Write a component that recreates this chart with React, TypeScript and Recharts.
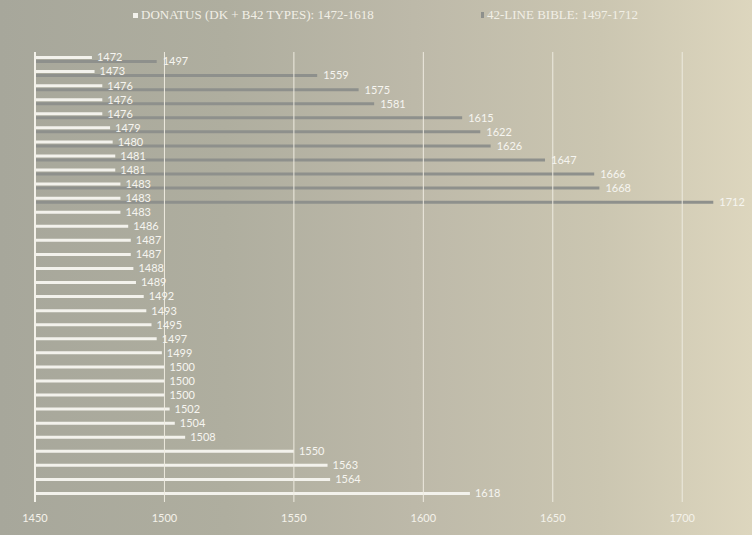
import React from 'react';
import { BarChart, Bar, XAxis, YAxis, ReferenceLine, LabelList } from 'recharts';

const donatusYears = [1472, 1473, 1476, 1476, 1476, 1479, 1480, 1481, 1481, 1483, 1483, 1483, 1486, 1487, 1487, 1488, 1489, 1492, 1493, 1495, 1497, 1499, 1500, 1500, 1500, 1502, 1504, 1508, 1550, 1563, 1564, 1618];
const bibleYears = [1497, 1559, 1575, 1581, 1615, 1622, 1626, 1647, 1666, 1668, 1712];
const xTicks = [1450, 1500, 1550, 1600, 1650, 1700];
const seriesNames = ['DONATUS (DK + B42 TYPES): 1472-1618', '42-LINE BIBLE: 1497-1712'];

const data = donatusYears.map((d, i) => ({
  name: `r${i}`,
  donatus: d,
  bible: i < bibleYears.length ? bibleYears[i] : null,
}));

const W = 752;
const H = 535;
const WHITE = '#f3f2ec';
const GRAY = '#8e908c';
const FONT = 'Lato, "Open Sans", sans-serif';

export default function App() {
  return (
    <div
      style={{
        position: 'absolute',
        left: 0,
        top: 0,
        width: W,
        height: H,
        background: 'linear-gradient(to right, #a7a79b 0%, #afae9f 30%, #bdb9a9 55%, #cbc6b1 80%, #ddd6be 100%)',
        overflow: 'hidden',
      }}
    >
      <div style={{ position: 'absolute', top: 6, left: 0, width: W, height: 20, fontFamily: '"Liberation Serif", "Times New Roman", serif', fontSize: 13, color: '#f1efe6' }}>
        <div style={{ position: 'absolute', left: 133, top: 0, display: 'flex', alignItems: 'center', height: 18 }}>
          <span style={{ display: 'inline-block', width: 5, height: 5, background: WHITE, marginRight: 3 }} />
          <span>{seriesNames[0]}</span>
        </div>
        <div style={{ position: 'absolute', left: 481, top: 0, display: 'flex', alignItems: 'center', height: 18 }}>
          <span style={{ display: 'inline-block', width: 3, height: 6, background: GRAY, marginRight: 3 }} />
          <span>{seriesNames[1]}</span>
        </div>
      </div>
      <BarChart
        width={W}
        height={H}
        data={data}
        layout="vertical"
        margin={{ top: 52, right: 18, bottom: 3, left: 35 }}
        barGap={1}
        barCategoryGap={0}
      >
        <XAxis
          type="number"
          domain={[1450, 1720]}
          ticks={xTicks}
          axisLine={false}
          tickLine={false}
          tickSize={0}
          tickMargin={12}
          height={30}
          tick={{ fill: '#f4f2ea', fontSize: 11, fontFamily: FONT }}
          interval={0}
        />
        <YAxis type="category" dataKey="name" width={0} tick={false} tickLine={false} axisLine={false} />
        {xTicks.map((t, i) => (
          <ReferenceLine key={t} x={t} stroke={i === 0 ? '#f4f2ea' : '#eeebe0'} strokeWidth={i === 0 ? 2 : 1} />
        ))}
        <Bar dataKey="donatus" fill={WHITE} barSize={3} isAnimationActive={false}>
          <LabelList dataKey="donatus" position="right" offset={5} fill="#f6f5f0" fontSize={11} fontFamily={FONT} />
        </Bar>
        <Bar dataKey="bible" fill={GRAY} barSize={3} isAnimationActive={false}>
          <LabelList
            dataKey="bible"
            position="right"
            offset={6}
            fill="#f6f5f0"
            fontSize={11}
            fontFamily={FONT}
            formatter={(v: any) => (v == null ? '' : v)}
          />
        </Bar>
      </BarChart>
    </div>
  );
}
